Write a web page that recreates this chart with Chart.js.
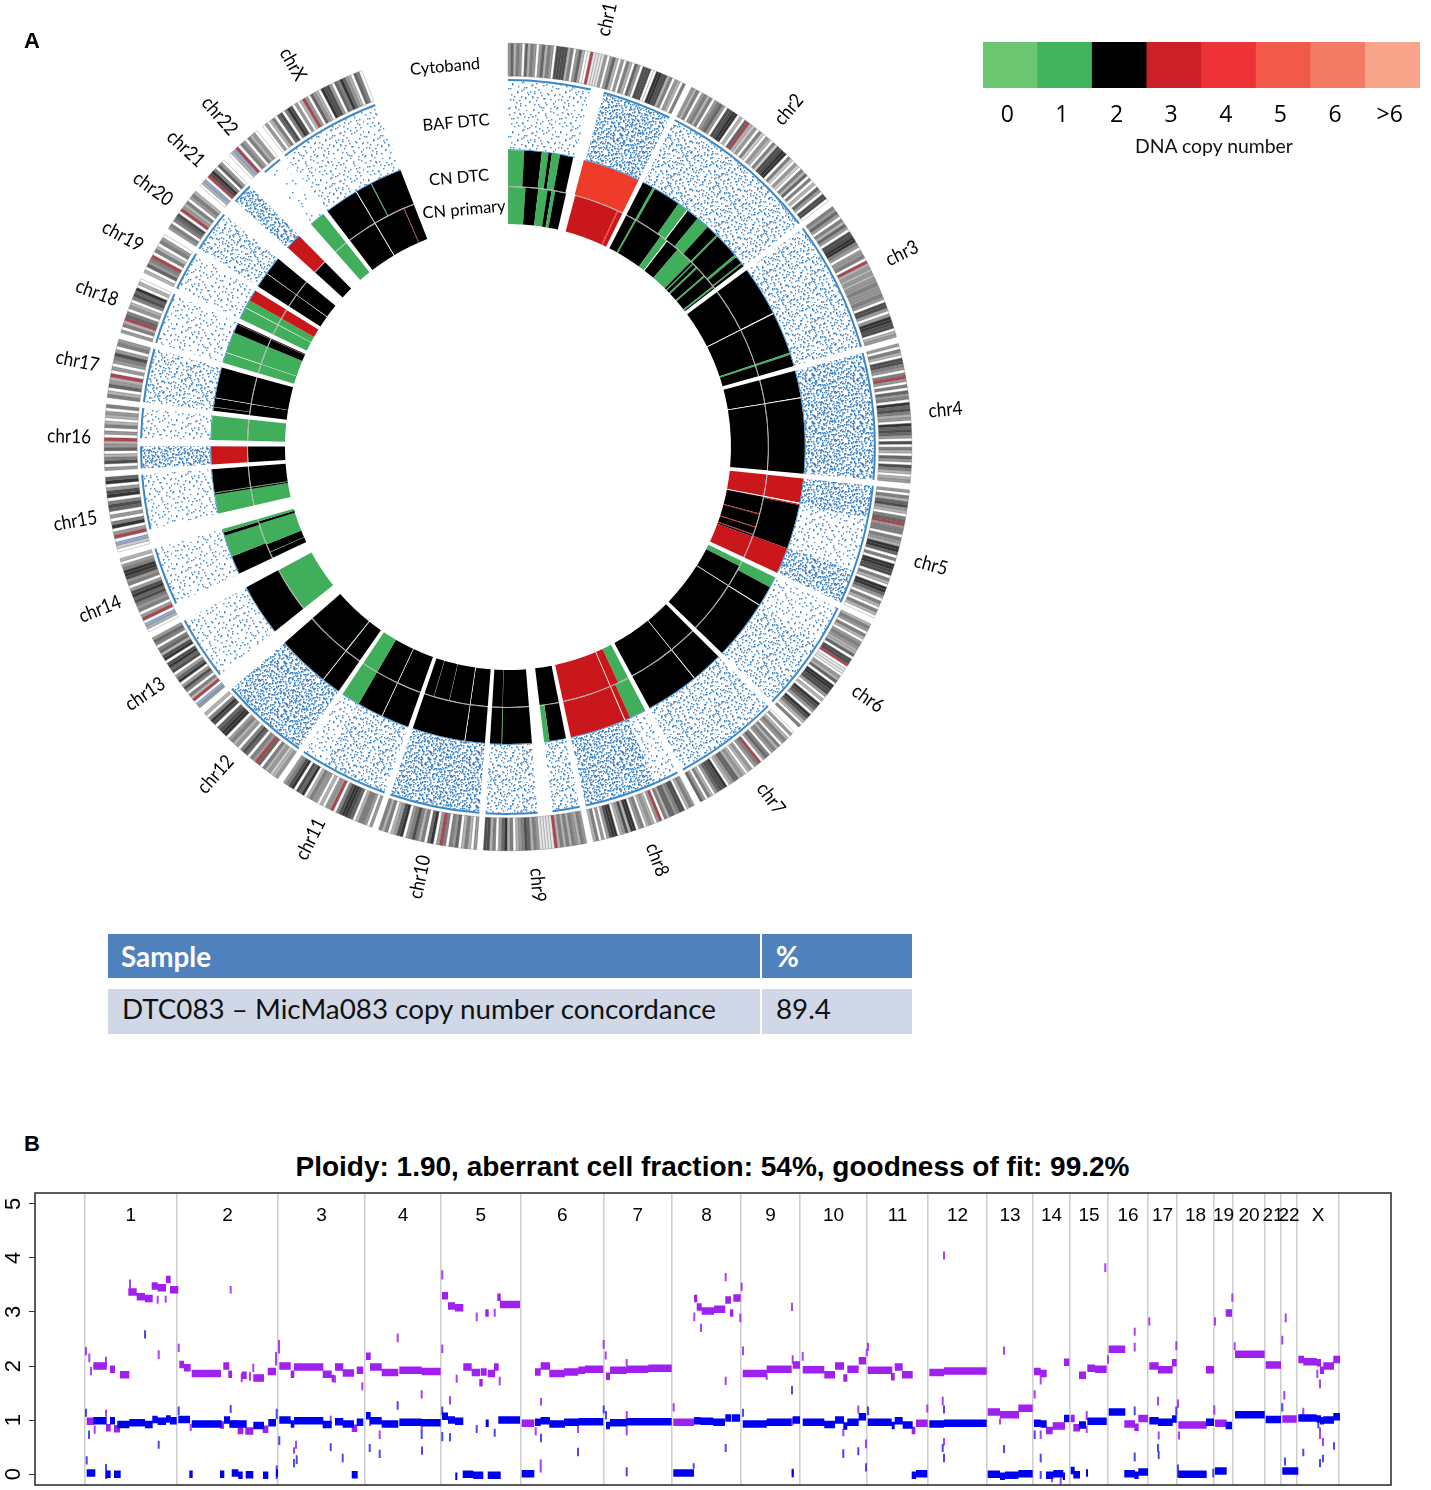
<!DOCTYPE html>
<html><head><meta charset="utf-8">
<style>
html,body{margin:0;padding:0;background:#fff;width:1431px;height:1490px;overflow:hidden;position:relative}
canvas{position:absolute;display:block}
.t{position:absolute;white-space:nowrap;line-height:1;color:#000}
.ring{font:16.5px Lato,sans-serif;transform:translate(-50%,-50%) rotate(-5deg)}
.panel{font:bold 22px "Liberation Sans",Arial,sans-serif}
#title{left:0;width:1425px;text-align:center;top:1151px;font:bold 28px "Liberation Sans",Arial,sans-serif}
.cell{position:absolute;font:27.8px Lato,sans-serif;line-height:1;box-sizing:border-box}
.hd{background:#4f81bd;color:#fff;font-weight:bold;top:934px;height:44px;padding-top:9px}
.rw{background:#d0d8e8;color:#111;top:989px;height:45px;padding-top:6px}
</style></head><body>
<canvas id="circos" width="960" height="960" style="left:28px;top:-33px;width:960px;height:960px"></canvas>
<canvas id="legendBar" width="437" height="100" style="left:983px;top:42px;width:437px;height:100px"></canvas>
<canvas id="profile" width="1431" height="305" style="left:0;top:1185px;width:1431px;height:305px"></canvas>
<div class="t panel" style="left:24px;top:28px">A</div>
<div class="t ring" style="left:445px;top:66px">Cytoband</div>
<div class="t ring" style="left:456px;top:122px">BAF DTC</div>
<div class="t ring" style="left:459px;top:177px">CN DTC</div>
<div class="t ring" style="left:464px;top:209px">CN primary</div>
<div class="t" style="left:1135px;top:134px;font:19.4px Lato,sans-serif;color:#111">DNA copy number</div>
<div class="cell hd" style="left:108px;width:652px;padding-left:13px">Sample</div>
<div class="cell hd" style="left:762px;width:150px;padding-left:14px">%</div>
<div class="cell rw" style="left:108px;width:652px;padding-left:14px">DTC083 – MicMa083 copy number concordance</div>
<div class="cell rw" style="left:762px;width:150px;padding-left:14px">89.4</div>
<div class="t panel" style="left:24px;top:1131px">B</div>
<div class="t" id="title">Ploidy: 1.90, aberrant cell fraction: 54%, goodness of fit: 99.2%</div>
<script src="https://cdn.jsdelivr.net/npm/chart.js@4"></script>
<script>
// ---------- Panel A data ----------
const chromNames=['chr1','chr2','chr3','chr4','chr5','chr6','chr7','chr8','chr9','chr10','chr11','chr12','chr13','chr14','chr15','chr16','chr17','chr18','chr19','chr20','chr21','chr22','chrX'];
const chromLengths=[249,243,198,191,181,171,159,146,141,136,135,134,115,107,103,90,81,78,59,63,48,51,155];
const chromGap=9.1;
const openWedge=202.5;
// one character per band: 0-9 grey level, r centromere, b stalk
const cytobands=[
"46354063540463540777735046300r1111404630405306407770088773504305",
"4350453504564077880306r3240520430527788052042053605030640770",
"546405364077885404450r34343445444540774048877034",
"40530775405r40506450867534086764070530640753034",
"40536743056r45505438860508877053088640530530",
"3540530454336077r011043608877403087640875305",
"0403540535405640r5404303436643087764035046",
"4530775466350r4034305408837430887404053",
"4534535353r111114536754305386405377",
"40353064505r40860535754087430535",
"40455306788750r440304453086708754",
"43243506r4506750435408876078503",
"4b0r3505740864076870873650564",
"03b0r40545768740547885403",
"02b0r40850406750874086",
"407530643r0405303405",
"530643r0404574054",
"4053r6504305768030",
"30645r0530540",
"4505670r4350453",
"03b0r7850640",
"03br05405340",
"0403506705870403r406430877406586430650"
];
// "copy:width" runs along each chromosome, x = no probes, w = thin white line
const cnDTC=[
"1:12 2:13 1:5 2:2.5 1:6 2:10 x:8 4:43",
"2:8.5 1:2 2:21 1:8 w:.8 2:9.5 1:10 2:9 1:1.5 2:19 1:2 2:6 1:1 2:2",
"2:47 w:1 2:39 1:2 2:11",
"2:26 w:1 2:73",
"3:25 w:1.2 3:1 2:45.8 3:27",
"1:12 2:22 w:1 2:65",
"2:37 w:1 2:62",
"1:21 3:7 w:1 3:71",
"2:22 1:7 x:16 2:39 1:.8 2:15.2",
"2:27 w:1 2:72",
"2:38 w:1 2:35.5 1:25.5",
"2:26 w:1 2:73",
"x:16 2:84",
"x:18 2:32 1:38 2:6 1:6",
"x:20 1:34 2:3 1:1.2 2:41.8",
"3:37 x:13 1:50",
"2:8 1:1 2:20 w:1 2:70",
"1:25 w:1 1:50 2:21 3:.5 2:2.5",
"1:38 w:1.5 1:24.5 3:36",
"2:45 w:1.5 2:53.5",
"x:35 w:2 3:63",
"x:42 1:58",
"2:41 w:1 2:19 1:1.2 2:37.8"
];
const cnPrimary=[
"1:15 2:11 1:8 2:3.5 1:3 2:9.5 x:8 3:38 4:1 3:4",
"2:8 1:1.5 2:24 1:6 w:.8 2:11 1:15 2:2 1:1 2:3 1:1.5 2:8 1:1.5 2:10 1:1.5 2:1",
"2:47 w:1 2:39 1:2 2:11",
"2:26 w:1 2:73",
"3:25 w:1.2 2:20 3:1 2:15 3:1 2:8 3:1 2:2 3:26",
"1:7 2:27 w:1 2:65",
"2:37 w:1 2:62",
"1:16 3:12 w:1 3:71",
"2:29 x:16 2:39 3:.5 2:15.5",
"2:27 w:1 2:32 1:.6 2:24 1:.6 2:14.8",
"2:38 w:1 2:35.5 1:25.5",
"2:26 w:1 1:.6 2:72.4",
"x:16 1:84",
"x:18 2:12 1:1 2:16 1:43 2:5 1:5",
"x:20 1:34 2:3 1:1.2 2:41.8",
"2:37 x:13 1:50",
"2:29 w:1 2:70",
"1:25 w:1 1:50 2:21 3:.5 2:2.5",
"1:38 w:1.5 1:24.5 3:36",
"2:45 w:1.5 2:53.5",
"x:37 2:63",
"x:42 1:58",
"2:41 w:1 2:43 3:1 2:14"
];
// BAF point density per stretch: 0 sparse .. 3 dense
const bafDensity=[
"1:50 x:8 3:42","2:42 2:58","2:100","3:100","3:27 1:45 3:28","1:35 2:65","2:100","1:25 3:75","2:29 x:16 2:55",
"3:100","2:75 1:25","3:100","x:16 1:84","x:18 1:82","x:20 1:80","3:37 x:13 1:50","2:100","1:100","1:100","2:100",
"x:35 3:65","x:42 0:58","1:100"
];
const copyColors={0:'#6cc671',1:'#41ae5b',2:'#000000',3:'#c9171c',4:'#ef3c2a',w:'#ffffff',x:'rgba(0,0,0,0)'};
const greyLevels=['#ffffff','#e6e6e6','#cccccc','#b3b3b3','#999999','#808080','#666666','#4d4d4d','#333333','#1a1a1a'];
const speckleDots=[[3,7],[11,2],[19,9],[27,4],[38,6],[45,1],[6,15],[14,19],[23,14],[31,17],[41,12],[47,20],[2,25],[9,29],[18,24],[26,28],[35,22],[43,27],[5,36],[13,33],[21,38],[29,34],[37,39],[46,32],[1,44],[10,46],[17,42],[25,47],[33,44],[42,45],
[8,11],[16,5],[24,21],[34,10],[44,16],[4,21],[12,40],[20,31],[30,41],[39,30],[7,43],[15,26],[22,3],[28,11],[36,35],[40,19],[47,38],[3,31],[11,37],[19,17],[27,24],[32,29],[43,8],[37,2],[24,33],[14,12],[6,1],[46,43],[34,47],[17,35]];
// ---------- Legend data ----------
const legendLabels=['0','1','2','3','4','5','6','>6'];
const legendValues=[1,1,1,1,1,1,1,1];
const legendColors=['#6cc671','#41b35c','#000000','#cc2029','#ee3338','#f15a4a','#f47c64','#f9a58c'];
// ---------- Panel B data ----------
const chromBounds=[49.5,142,243,330,406,485.7,568.7,637,706,765,832,893,952,998,1035,1073,1113,1142,1179,1198,1230,1246,1262,1304];
const chromLabels=['1','2','3','4','5','6','7','8','9','10','11','12','13','14','15','16','17','18','19','20','21','22','X'];
// [start, end, copies]
const majorSegments=[[58.3,71.7,2],[75,80,1.94],[85,94.3,1.84],[93.3,101.7,3.37],[101.7,110,3.28],[110,117.7,3.25],[116.7,122.7,3.48],[122.7,131,3.45],[131,135.7,3.6],[135,143.3,3.41],[51.7,59,.98],[71,75.7,.86],[79,85,.84],
[144.3,149,2.03],[149,155.7,1.97],[156.7,186,1.86],[188.3,194.3,2],[193.3,197,1.85],[206.7,211.7,1.83],[218.3,229,1.78],[232.7,241,1.9],[185,189,.91],[196,203.3,.93],[202.7,208.3,.81],[210.3,218.3,.8],[227.7,233.3,.83],
[244.3,255.7,2],[255.7,259.3,1.85],[259,288.3,1.98],[287.7,296.7,1.85],[296.7,299.3,1.77],[300,308.3,1.98],[307.7,319,1.87],[321.7,328.3,1.92],[316.7,322.3,.85],
[331,335.7,2.18],[335,346.7,1.98],[346.7,363.3,1.88],[364.3,386.7,1.92],[386.7,405.7,1.9],
[407,413,3.3],[413,420,3.11],[420,428.3,3.08],[428.3,436.7,1.98],[436.7,445,1.88],[445.7,451.7,1.89],[452.7,460,1.86],[459,463.7,1.98],[444.3,447.7,1.69],[450.3,453.7,2.98],[462.3,465.7,3.27],[465,485,3.14],[486.7,499.3,.94],
[500,505.7,1.89],[505.7,515,2],[514.3,530,1.86],[529,543.3,1.89],[543.3,550,1.92],[550,568.3,1.94],
[571,575,1.81],[575,591.7,1.92],[591.7,613.3,1.94],[613.3,636.7,1.96],
[638.3,659,.96],[659,662.3,3.25],[661.7,666.7,3.09],[666.7,679,3.02],[679,690.3,3.05],[690.3,696,3.22],[695,698.3,2.98],[698.3,705.7,3.26],
[707.7,731.7,1.86],[731.7,756.7,1.94],[757.7,765,2.02],
[767.7,789.3,1.93],[789.3,800,1.84],[800,809,2],[808.3,812.3,1.78],[812.3,823.7,1.94],[823.7,831,2.1],
[832.7,857.3,1.92],[856,859.7,1.8],[859.7,867.7,1.98],[867,877.7,1.84],[876.7,880.3,.81],[881,892.7,.94],
[894.3,909,1.88],[909,951.7,1.91],
[952.7,965,1.15],[965,984,1.1],[983.3,997.7,1.22],
[999,1005.7,1.9],[1005.7,1011.7,1.86],[1011,1017.7,.81],[1017.7,1030,.89],[1029,1034.3,2.07],
[1035.7,1039.7,1.03],[1038.3,1045,.86],[1044,1051,1.83],[1052.3,1060,1.96],[1060,1071.7,1.94],
[1073.7,1090.3,2.31],[1089.3,1100,.93],[1099.3,1103.7,.87],[1103.3,1113,1.03],
[1114.3,1123.7,2],[1123,1137.7,1.93],[1137,1141.7,2.06],
[1143.3,1171.7,.91],[1171,1179,1.93],[1180,1191.7,.94],[1190.7,1197,2.98],
[1200,1229.7,2.22],[1230.7,1246,2.02],[1247.3,1261.7,1.02],
[1263.3,1269,2.12],[1268.3,1281.7,2.08],[1281.7,1286,2.06],[1285,1289,1.92],[1288.3,1299,2],[1298.3,1305,2.12]];
const minorSegments=[[58.3,71.7,.99],[75,80,.99],[82.3,94.3,.92],[94.3,110,.95],[110,117.7,.92],[117.3,122.7,1.01],[122.7,131,.98],[131,135.7,1.02],[135,141.7,.99],[51.7,60.3,.02],[71,75.7,0],[79,85.7,0],
[143.3,155,1.01],[156.7,186.7,.93],[189,195,1],[194.3,211.7,.93],[218.3,229,.9],[233.3,241,.95],[154.3,157.7,0],[185,189.3,0],[196.7,203.3,.02],[203.3,207.7,-.02],[210.7,218.3,-.01],[228,233.3,-.02],[241,243,.02],
[244.3,255.7,1],[255.7,259.3,.93],[259,288.3,.99],[287.7,296.7,.92],[300,308.3,.97],[307.7,319,.93],[321.7,328.3,.96],[316.7,322.7,-.01],
[331,335.7,1.08],[335,346.7,.99],[346.7,363.3,.93],[364.3,386.7,.96],[386.7,405.7,.95],
[407,413,1.07],[413,420,1],[420,428.3,.98],[450.7,453.7,.94],[463.3,485,1],[420.3,422.3,-.04],[427.7,438.3,0],[438.3,448.3,-.02],[452.7,465.7,-.02],
[486.7,499.3,.01],[500,505.7,.96],[505.7,515,.99],[514.3,530,.93],[529,543.3,.96],[543.3,568.3,.97],
[571,575,.9],[575,591.7,.95],[591.7,636.7,.97],
[638.3,659,.02],[659,665.7,.99],[665.7,678.3,.98],[678.3,690,.96],[690.3,696,1.04],[696.7,705,1.04],
[707.7,731.7,.93],[731.7,756.7,.96],[757.7,765,1],[756.7,758.7,.02],
[767.7,789.3,.96],[789.3,800,.92],[800,809,1],[808.3,812.3,.89],[812.3,823.7,.96],[823.7,831,1.06],
[832.7,856.7,.96],[856.7,859.7,.9],[859.7,867.7,.99],[867.7,877.7,.91],[876.7,881,-.02],[881,892.3,.01],
[894.3,909,.93],[909,951.7,.94],
[952.7,965,0],[965,970,-.04],[970,983.3,-.02],[983.3,997.7,.01],
[999,1005.7,.94],[1005.7,1011.7,.93],[1029,1034.3,1.03],[1011,1018.3,-.02],[1018.3,1028.3,.01],[1027.7,1030,-.04],
[1044,1051,.91],[1052.3,1071.7,.98],[1035.7,1039.7,.07],[1038.3,1045,-.01],[1051,1053,.02],
[1073.7,1090.3,1.15],[1089.3,1100,.01],[1099.3,1103.7,-.02],[1103.3,1113,.04],
[1114.3,1123.7,.99],[1123,1137.7,.96],[1137,1141.7,1.02],
[1143.3,1171.7,0],[1171,1179,.96],[1180,1191.7,.06],[1190.7,1197,.9],
[1200,1229.7,1.1],[1230.7,1246,1.01],[1247.3,1263.3,.06],
[1263.3,1281.7,1.04],[1281.7,1286,1.02],[1285,1289,.99],[1288.3,1299,1],[1298.3,1305,1.06]];
// [position, top, bottom]
const majorMarks=[[51,2.35,2.2],[54.3,2.23,2.07],[56,1.98,1.83],[71,2.17,1.98],[95,3.6,3.43],[122.7,3.3,3.15],[130.7,3.3,3.17],[123.7,2.29,2.13],[195.7,3.48,3.34],[143.7,2.41,2.26],[206.7,1.86,1.7],[215,1.89,1.73],[218.3,2.04,1.89],[241,2.26,2.01],[244,2.48,2.23],[259,.5,.38],[261,.62,.47],[300,1.83,1.69],[327.3,1.7,1.55],[362.7,2.6,2.44],[344.7,.81,.65],[386.7,1.55,1.4],[386.7,.95,.8],[407.3,3.77,3.6],[407.3,2.4,2.24],[415,1.44,1.29],[421.7,1.84,1.69],[441.7,2.99,2.83],[459.7,3.06,2.91],[59.7,.9,.75],[71,1.19,1.06],[155.7,.93,.8],[295.7,1.08,.93],[335,1.04,.89],
[464.7,1.8,1.64],[506,1.41,1.27],[500.7,.87,.72],[505.7,.27,.03],[543,.92,.76],[568.7,2.48,2.32],[570.7,2.27,2.12],[591.7,2.13,2],[591.7,1.17,.99],[591.7,.9,.72],[638.7,1.31,1.16],[690.7,3.72,3.57],[659.3,2.99,2.83],[666,2.78,2.63],[705.3,2.97,2.81],[706.7,3.54,3.39],[690.7,1.8,1.65],[708,2.36,2.2],[757,3.17,3.02],[757.7,2.2,2.04],[731.7,1.86,1.74],[767.7,2.26,2.1],[833,2.43,2.28],[831.7,2.32,2.18],[823.3,1.27,1.12],[808.3,.84,.7],[831,.64,.48],[909,4.12,3.97],[907.7,1.43,1.27],[892.3,1.29,1.14],[909,.67,.53],[757.7,1.05,.9],
[969,2.36,2.21],[965,1.03,.92],[1005.7,1.83,1.66],[999.7,1.55,1.4],[1005.7,.81,.65],[1025.7,-.06,-.21],[1017,0,-.15],[1051.7,1.17,1],[1051.7,.9,.76],[1070.3,3.9,3.74],[1073,2.2,2.04],[1099.7,2.71,2.56],[1099.7,2.43,2.27],[1114.3,2.9,2.75],[1123,1.43,1.27],[1123.7,.79,.64],[1141.3,2.46,2.29],[1143,1.38,1.23],[1144,.79,.64],[1180,2.9,2.75],[1179.3,1.27,1.1],[1197.3,3.34,3.19],[1199.7,2.44,2.29],[1250.7,2.97,2.81],[1247.3,2.56,2.4],[1249.3,1.54,1.38],[1268.3,1.23,1.09],[1282.3,1.93,1.78],[1285,1.75,1.59],[1285,.87,.65],[1288,.67,.52]];
const minorMarks=[[51,1.21,1.06],[51.7,.33,.18],[54,.81,.65],[71,.19,-.09],[110,2.66,2.51],[123.7,.62,.47],[143.7,1.25,1.09],[195.7,1.28,1.13],[241.7,.16,-.09],[241.7,1.21,1.02],[244.3,.7,.54],[261.7,.35,.19],[259,.28,.13],[295.7,.57,.43],[307.7,.38,.22],[362.7,1.35,1.19],[334.7,.56,.41],[344.7,.45,.3],[386.7,.81,.65],[387,.51,.36],[407.3,.78,.61],[415,.76,.61],[441.7,.91,.76],[459.7,.84,.69],[407.3,1.25,1.09],
[506,.75,.59],[543,.49,.33],[568.7,1.27,1.12],[571,1.17,1.01],[591.7,.13,-.04],[690.7,.56,.41],[658.7,.2,.1],[708,1.21,1.06],[757,1.63,1.48],[757.7,.1,-.06],[808.3,.46,.3],[823.3,.5,.35],[831,.2,.05],[833,1.25,1.09],[909,1.27,1.12],[907.7,.56,.41],[909,.38,.22],
[969,.54,.39],[999.7,.81,.65],[1005.7,.38,.22],[1005.7,.06,-.09],[1099.7,1.25,1.09],[1099.7,.4,.24],[1123,.56,.41],[1123.7,.43,.28],[1141.3,1.25,1.09],[1143,.18,-.06],[1178.3,.1,-.06],[1250,.31,.16],[1247.3,1.31,1.16],[1268.3,.47,.33],[1285,.28,.13],[1288,.36,.22],[1299,.59,.45],[1283.3,1.0,.85]];

// ---------- helpers ----------
function parseRuns(s,len){
  const runs=s.trim().split(/\s+/).map(r=>{const p=r.split(':');return {code:p[0],w:parseFloat(p[1])};});
  const tot=runs.reduce((a,r)=>a+r.w,0);
  return runs.map(r=>({code:r.code,w:r.w/tot*len}));
}
function ring(tracks,colorOf,opts){
  const data=[],bg=[],bd=[];
  const bc=(opts&&opts.border)||null;
  tracks.forEach((runs,i)=>{
    runs.forEach(r=>{data.push(r.w);bg.push(colorOf(r.code));bd.push(bc&&r.code!=='x'?bc:'rgba(0,0,0,0)');});
    data.push(i<tracks.length-1?chromGap:openWedge);bg.push('rgba(0,0,0,0)');bd.push('rgba(0,0,0,0)');
  });
  return {data,backgroundColor:bg,borderColor:bd,borderWidth:(opts&&opts.bw)||0,weight:opts.weight};
}
function speckle(copies,every){
  const T=48,c=document.createElement('canvas');c.width=T;c.height=T;const g=c.getContext('2d');
  g.fillStyle='rgba(38,115,186,0.8)';
  for(let k=0;k<copies;k++){
    speckleDots.forEach((d,i)=>{ if(i%every)return;
      let x=k%2?d[1]:d[0],y=k%2?d[0]:d[1];
      if(k%3===1)x=T-x; if(k%4===2)y=T-y;
      x=(x+k*11)%T; y=(y+k*17)%T;
      g.fillRect(x,y,1.5,1.5);});
  }
  return g.createPattern(c,'repeat');
}
const speckles={0:speckle(1,2),1:speckle(2,1),2:speckle(4,1),3:speckle(8,1)};

const cnA=cnDTC.map((s,i)=>parseRuns(s,chromLengths[i]));
const cnB=cnPrimary.map((s,i)=>parseRuns(s,chromLengths[i]));
const baf=bafDensity.map((s,i)=>parseRuns(s,chromLengths[i]));
const bands=cytobands.map((s,i)=>{const n=s.length;return s.split('').map(ch=>({code:ch,w:chromLengths[i]/n}));});
const bandColor=c=>c==='r'?'#b5424a':c==='b'?'#8fa9d1':greyLevels[+c];
const rings=[
  ring(bands,bandColor,{weight:33,border:'#555555',bw:.3}),
  ring(chromLengths.map(l=>[{code:'x',w:l}]),()=>'rgba(0,0,0,0)',{weight:3}),
  ring(baf,c=>c==='x'?'rgba(0,0,0,0)':'#3a87c8',{weight:2}),
  ring(baf,c=>c==='x'?'rgba(0,0,0,0)':speckles[c],{weight:68.2}),
  ring(baf,c=>c==='x'?'rgba(0,0,0,0)':'#3a87c8',{weight:.8}),
  ring(cnA,c=>copyColors[c],{weight:36}),
  ring(baf,c=>c==='x'?'rgba(0,0,0,0)':'rgba(150,150,150,.75)',{weight:1}),
  ring(cnB,c=>copyColors[c],{weight:37})
];

const chromLabelPlugin={id:'chromLabelPlugin',afterDraw(chart){
  const a=chart.chartArea,cx=(a.left+a.right)/2,cy=(a.top+a.bottom)/2,ctx=chart.ctx;
  const total=chromLengths.reduce((x,y)=>x+y,0)+chromGap*(chromLengths.length-1)+openWedge;
  let acc=0;ctx.save();ctx.font='19.5px Lato,sans-serif';ctx.fillStyle='#000';ctx.textAlign='center';ctx.textBaseline='middle';
  chromNames.forEach((n,i)=>{
    const deg=(acc+chromLengths[i]/2)/total*360;acc+=chromLengths[i]+chromGap;
    const rad=deg*Math.PI/180,r=439;
    ctx.save();ctx.translate(cx+r*Math.sin(rad),cy-r*Math.cos(rad));
    ctx.rotate((deg<180?deg-90:deg+90)*Math.PI/180);ctx.scale(.88,1);ctx.fillText(n,0,0);ctx.restore();
  });ctx.restore();
}};
new Chart(document.getElementById('circos'),{type:'doughnut',
  data:{labels:[],datasets:rings},
  options:{responsive:false,animation:false,events:[],cutout:223,rotation:0,circumference:360,hoverOffset:0,
    layout:{padding:76},plugins:{legend:{display:false},tooltip:{enabled:false}}},
  plugins:[chromLabelPlugin]});

new Chart(document.getElementById('legendBar'),{type:'bar',
  data:{labels:legendLabels,datasets:[{data:legendValues,backgroundColor:legendColors,barPercentage:1,categoryPercentage:1}]},
  options:{responsive:false,animation:false,events:[],layout:{padding:0},
    plugins:{legend:{display:false},tooltip:{enabled:false}},
    scales:{y:{display:false,min:0,max:1},
      x:{afterFit(s){s.height=54;},grid:{display:false},border:{display:false},
        ticks:{color:'#000',font:{family:'"Open Sans"',size:23},padding:6,maxRotation:0,labelOffset:-3}}}}});

function lineData(segs){const pts=[];segs.forEach(s=>{pts.push({x:s[0],y:s[2]},{x:s[1],y:s[2]},{x:s[1],y:null});});return pts;}
function markData(marks){const pts=[];marks.forEach(m=>{pts.push({x:m[0],y:m[1]},{x:m[0],y:m[2]},{x:m[0],y:null});});return pts;}
const ds=(d,c,w)=>({data:d,borderColor:c,borderWidth:w,pointRadius:0,borderCapStyle:'butt',spanGaps:false,tension:0,fill:false});
const frame={id:'frame',afterDatasetsDraw(chart){
  const a=chart.chartArea,ctx=chart.ctx,xs=chart.scales.x;ctx.save();
  ctx.strokeStyle='#333';ctx.lineWidth=1.6;ctx.strokeRect(a.left,a.top,a.width,a.height);
  ctx.fillStyle='#000';ctx.font='19px "Liberation Sans",Arial,sans-serif';ctx.textAlign='center';ctx.textBaseline='middle';
  chromLabels.forEach((t,i)=>{ctx.fillText(t,(xs.getPixelForValue(chromBounds[i])+xs.getPixelForValue(chromBounds[i+1]))/2,a.top+23);});
  ctx.restore();
}};
new Chart(document.getElementById('profile'),{type:'line',
  data:{datasets:[
    ds(lineData(minorSegments),'#0000f0',7.5),
    ds(lineData(majorSegments),'#a020f0',7.5),
    ds(markData(minorMarks),'rgba(40,40,245,.85)',2),
    ds(markData(majorMarks),'rgba(160,32,240,.85)',2)
  ]},
  options:{responsive:false,animation:false,events:[],layout:{padding:{left:0,right:40,top:8,bottom:5}},
    plugins:{legend:{display:false},tooltip:{enabled:false}},
    scales:{
      x:{type:'linear',min:0,max:1356,afterBuildTicks(s){s.ticks=chromBounds.map(v=>({value:v}));},
        afterFit(s){s.height=0;s.paddingLeft=0;s.paddingRight=0;},
        grid:{color:'#cfcfcf',lineWidth:1.6,drawTicks:false},border:{display:false},ticks:{display:false}},
      y:{min:-.2,max:5.2,afterBuildTicks(s){s.ticks=[0,1,2,3,4,5].map(v=>({value:v}));},
        afterFit(s){s.width=35;s.paddingTop=0;s.paddingBottom=0;},
        grid:{display:true,drawOnChartArea:false,drawTicks:true,tickLength:6,tickColor:'#333'},border:{display:false},
        ticks:{color:'#000',font:{family:'"Liberation Sans"',size:22},minRotation:90,maxRotation:90,padding:9,align:'center',crossAlign:'center'}}
    }},
  plugins:[frame]});
</script></body></html>
